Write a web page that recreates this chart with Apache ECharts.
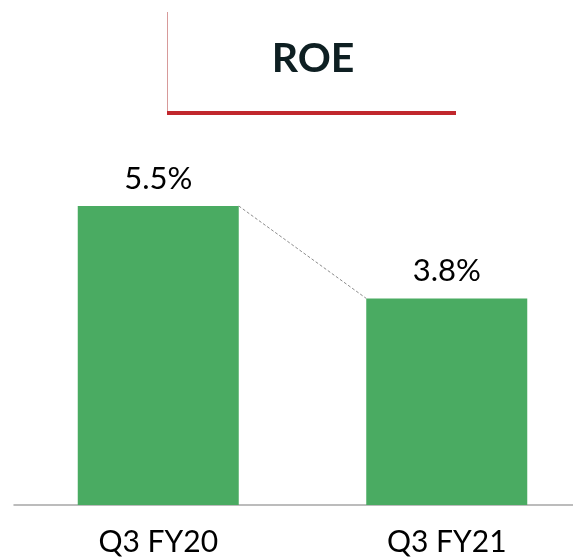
<!DOCTYPE html>
<html>
<head>
<meta charset="utf-8">
<script src="https://cdn.jsdelivr.net/npm/echarts@6/dist/echarts.min.js"></script>
<style>
  html, body { margin: 0; padding: 0; background: #fff; }
  #chart { width: 573px; height: 557px; }
</style>
</head>
<body>
<div id="chart"></div>
<script>
// data
const categories = ['Q3 FY20', 'Q3 FY21'];
const roeValues = [5.5, 3.8];
const chartTitle = 'ROE';

const BAR_WIDTH = 161;
const myChart = echarts.init(document.getElementById('chart'));

const option = {
  animation: false,
  grid: { left: 14, top: 206, width: 577, height: 299, outerBoundsMode: 'none', containLabel: false },
  graphic: [
    // decorative frame around the title
    { type: 'line', shape: { x1: 167.5, y1: 12, x2: 167.5, y2: 112 }, style: { stroke: '#d79a9a', lineWidth: 1 } },
    { type: 'rect', shape: { x: 167, y: 111, width: 289, height: 4 }, style: { fill: '#c1272d' } },
    {
      type: 'text', x: 313, y: 38,
      style: { text: chartTitle, font: 'bold 41px Lato', fill: '#0e1f22', textAlign: 'center' }
    }
  ],
  xAxis: {
    type: 'category',
    data: categories,
    axisTick: { show: false },
    axisLine: { lineStyle: { color: '#a6a6a6', width: 1.5 } },
    axisLabel: { color: '#000', fontSize: 30, fontFamily: 'Lato', margin: 22 }
  },
  yAxis: {
    type: 'value',
    min: 0,
    max: 5.5,
    show: false
  },
  series: [
    {
      type: 'bar',
      data: roeValues,
      barWidth: BAR_WIDTH,
      itemStyle: { color: '#4aab62' },
      label: {
        show: true,
        position: 'top',
        distance: 12,
        formatter: p => p.value.toFixed(1) + '%',
        color: '#000',
        fontSize: 31,
        fontFamily: 'Lato'
      }
    },
    {
      // dashed connector from right edge of first bar to left edge of second
      type: 'custom',
      data: [[0, roeValues[0], 1, roeValues[1]]],
      renderItem: function (params, api) {
        const a = api.coord([api.value(0), api.value(1)]);
        const b = api.coord([api.value(2), api.value(3)]);
        return {
          type: 'line',
          shape: { x1: a[0] + BAR_WIDTH / 2, y1: a[1], x2: b[0] - BAR_WIDTH / 2, y2: b[1] },
          style: { stroke: '#8c8c8c', lineWidth: 1, lineDash: [3, 2] }
        };
      }
    }
  ]
};

myChart.setOption(option);
</script>
</body>
</html>
